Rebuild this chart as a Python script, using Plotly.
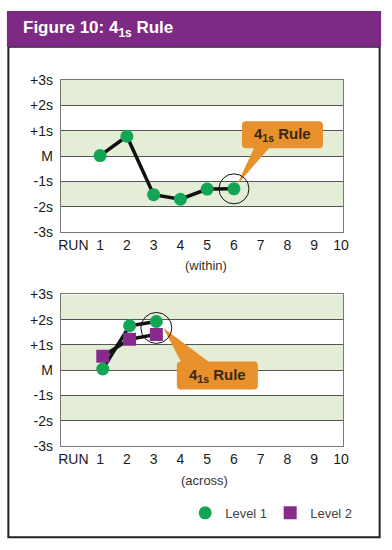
import plotly.graph_objects as go

W, H = 392, 550

# ---------------- data ----------------
run_ticks = list(range(0, 11))
run_labels = ["RUN", "1", "2", "3", "4", "5", "6", "7", "8", "9", "10"]
sd_ticks = [-3, -2, -1, 0, 1, 2, 3]
sd_labels = ["-3s", "-2s", "-1s", "M", "+1s", "+2s", "+3s"]

within_runs = [1, 2, 3, 4, 5, 6]
within_level1 = [0.02, 0.78, -1.52, -1.70, -1.30, -1.29]

across_runs = [1.1, 2.1, 3.1]
across_level1 = [0.05, 1.76, 1.93]
across_level2 = [0.56, 1.23, 1.42]

bands = [(2, 3), (0, 1), (-2, -1)]

# ---------------- styles ----------------
GREEN = "#12A556"
PURPLE = "#862B8C"
HEADER = "#7D2A84"
ORANGE = "#E8902C"
BAND = "#E4EED7"
FONT = "Liberation Sans, Arial, Helvetica, sans-serif"


def px_x(p):
    return p / W


def px_y(p):
    return 1 - p / H


fig = go.Figure()

# top chart: line + markers
fig.add_trace(go.Scatter(x=within_runs, y=within_level1, mode="lines",
                         line=dict(color="#111111", width=3.5),
                         showlegend=False, hoverinfo="skip", xaxis="x", yaxis="y"))
fig.add_trace(go.Scatter(x=within_runs, y=within_level1, mode="markers",
                         marker=dict(color=GREEN, size=13, symbol="circle"),
                         showlegend=False, xaxis="x", yaxis="y"))

# bottom chart
fig.add_trace(go.Scatter(x=across_runs, y=across_level1, mode="lines",
                         line=dict(color="#111111", width=3.5),
                         showlegend=False, hoverinfo="skip", xaxis="x2", yaxis="y2"))
fig.add_trace(go.Scatter(x=across_runs, y=across_level2, mode="lines",
                         line=dict(color="#111111", width=3.5),
                         showlegend=False, hoverinfo="skip", xaxis="x2", yaxis="y2"))
fig.add_trace(go.Scatter(x=across_runs, y=across_level2, mode="markers", name="Level 2",
                         marker=dict(color=PURPLE, size=13, symbol="square"),
                         showlegend=True, legendrank=2, xaxis="x2", yaxis="y2"))
fig.add_trace(go.Scatter(x=across_runs, y=across_level1, mode="markers", name="Level 1",
                         marker=dict(color=GREEN, size=13, symbol="circle"),
                         showlegend=True, legendrank=1, xaxis="x2", yaxis="y2"))

xaxis_common = dict(range=[-0.47, 10.07], tickvals=run_ticks, ticktext=run_labels,
                    showgrid=False, zeroline=False, showline=True, mirror=True,
                    linecolor="#777777", linewidth=1,
                    ticks="", tickfont=dict(family=FONT, size=14, color="#1a1a1a"),
                    fixedrange=True)
yaxis_common = dict(range=[-3, 3], tickvals=sd_ticks, ticktext=sd_labels,
                    showgrid=True, gridcolor="#555555", gridwidth=1, zeroline=False,
                    showline=True, mirror=True, linecolor="#777777", linewidth=1,
                    ticks="outside", ticklen=4, tickcolor="rgba(0,0,0,0)",
                    tickfont=dict(family=FONT, size=14, color="#1a1a1a"),
                    fixedrange=True)

shapes = []
# frame and header
shapes.append(dict(type="rect", xref="paper", yref="paper",
                   x0=px_x(6.5), x1=px_x(385.5), y0=px_y(545), y1=px_y(40),
                   line=dict(color="#222222", width=2), fillcolor="rgba(0,0,0,0)", layer="below"))
shapes.append(dict(type="rect", xref="paper", yref="paper",
                   x0=px_x(5), x1=px_x(387), y0=px_y(40), y1=px_y(3),
                   line=dict(width=0), fillcolor=HEADER, layer="below"))

# green bands
for xr, yr in (("x", "y"), ("x2", "y2")):
    for lo, hi in bands:
        shapes.append(dict(type="rect", xref=xr + " domain", yref=yr, x0=0, x1=1, y0=lo, y1=hi,
                           line=dict(width=0), fillcolor=BAND, layer="below"))

# top callout (anchored to run 6)
sx, sy = within_runs[5], within_level1[5]
shapes.append(dict(type="path", xref="x", yref="y", xsizemode="pixel", ysizemode="pixel",
                   xanchor=sx, yanchor=sy,
                   path="M 3,4 L 20,40.7 L 12,40.7 Q 8,40.7 8,44.7 L 8,63.7 Q 8,67.7 12,67.7 "
                        "L 85,67.7 Q 89,67.7 89,63.7 L 89,44.7 Q 89,40.7 85,40.7 L 35,40.7 Z",
                   fillcolor=ORANGE, line=dict(width=0), layer="between"))
shapes.append(dict(type="circle", xref="x", yref="y", xsizemode="pixel", ysizemode="pixel",
                   xanchor=sx, yanchor=sy, x0=-15, x1=15, y0=-15, y1=15,
                   line=dict(color="#111111", width=1), fillcolor="rgba(0,0,0,0)", layer="above"))

# bottom callout (anchored to run 3, between both levels)
bx = across_runs[2]
by = (across_level1[2] + across_level2[2]) / 2
shapes.append(dict(type="path", xref="x2", yref="y2", xsizemode="pixel", ysizemode="pixel",
                   xanchor=bx, yanchor=by,
                   path="M 7,0 L 52,-33.5 L 97.5,-33.5 Q 101.5,-33.5 101.5,-37.5 L 101.5,-57.5 "
                        "Q 101.5,-61.5 97.5,-61.5 L 24.5,-61.5 Q 20.5,-61.5 20.5,-57.5 "
                        "L 20.5,-37.5 Q 20.5,-33.5 24.5,-33.5 Z",
                   fillcolor=ORANGE, line=dict(width=0), layer="between"))
shapes.append(dict(type="circle", xref="x2", yref="y2", xsizemode="pixel", ysizemode="pixel",
                   xanchor=bx, yanchor=by, x0=-15.5, x1=15.5, y0=-15.5, y1=15.5,
                   line=dict(color="#111111", width=1), fillcolor="rgba(0,0,0,0)", layer="above"))

rule_text = "<b>4<sub>1s</sub> Rule</b>"
annotations = [
    dict(text="<b>Figure 10: 4<sub>1s</sub> Rule</b>", xref="paper", yref="paper",
         x=px_x(19), y=px_y(22), xanchor="left", yanchor="middle", showarrow=False,
         font=dict(family=FONT, size=17, color="white")),
    dict(text=rule_text, xref="x", yref="y", x=sx, y=sy, xshift=48.5, yshift=54.2,
         showarrow=False, font=dict(family=FONT, size=15, color="#3a2812")),
    dict(text=rule_text, xref="x2", yref="y2", x=bx, y=by, xshift=61, yshift=-47.5,
         showarrow=False, font=dict(family=FONT, size=15, color="#3a2812")),
    dict(text="(within)", xref="paper", yref="paper", x=px_x(208), y=px_y(265),
         xanchor="center", yanchor="middle", showarrow=False,
         font=dict(family=FONT, size=13, color="#333333")),
    dict(text="(across)", xref="paper", yref="paper", x=px_x(207), y=px_y(487),
         xanchor="center", yanchor="middle", showarrow=False,
         font=dict(family=FONT, size=13, color="#333333")),
]

fig.update_layout(
    width=W, height=H, margin=dict(l=0, r=0, t=0, b=0),
    paper_bgcolor="white", plot_bgcolor="white",
    font=dict(family=FONT),
    xaxis=dict(domain=[px_x(60), px_x(348)], anchor="y", **xaxis_common),
    yaxis=dict(domain=[px_y(231), px_y(74)], anchor="x", **yaxis_common),
    xaxis2=dict(domain=[px_x(60), px_x(348)], anchor="y2", **xaxis_common),
    yaxis2=dict(domain=[px_y(451.3), px_y(295)], anchor="x2", **yaxis_common),
    shapes=shapes,
    annotations=annotations,
    legend=dict(orientation="h", x=px_x(187), y=px_y(520), xanchor="left", yanchor="middle",
                font=dict(family=FONT, size=13, color="#444444"),
                bgcolor="rgba(0,0,0,0)", entrywidth=40, traceorder="normal"),
    hovermode=False,
)

fig.write_html("out.html", config={"displayModeBar": False},
               post_script="document.body.style.margin='0';document.body.style.overflow='hidden';")
